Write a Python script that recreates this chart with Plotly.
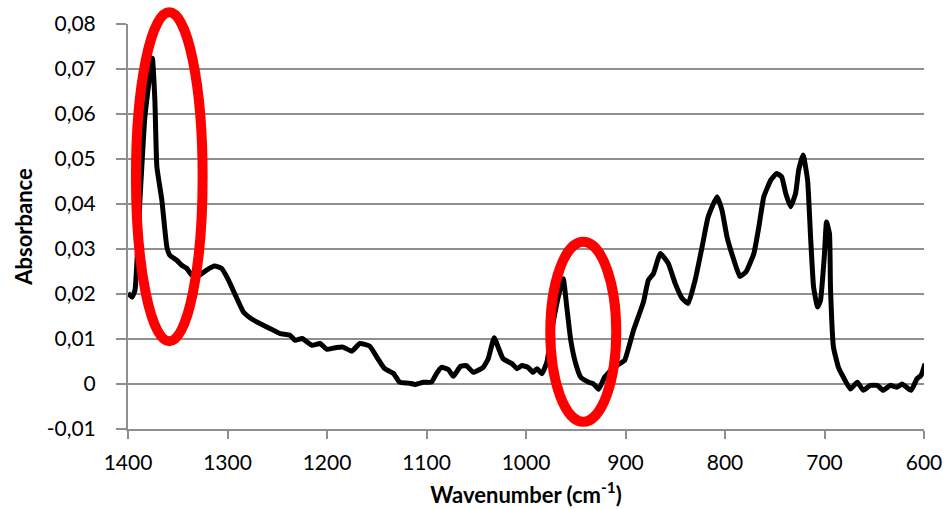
import plotly.graph_objects as go

# IR absorbance spectrum (wavenumber in cm-1, absorbance)
wavenumber = [
    1400, 1396, 1393, 1388, 1383, 1375.5, 1373, 1371, 1366, 1361, 1358, 1351, 1346, 1341,
    1336, 1328, 1321, 1313, 1306, 1299, 1292, 1284, 1276, 1267, 1257, 1247, 1237, 1232,
    1225, 1215, 1207, 1200, 1193, 1184, 1175, 1167, 1157, 1150, 1142, 1133, 1127, 1118,
    1111, 1103, 1095, 1090, 1085, 1078, 1073, 1066, 1060, 1053, 1043, 1038, 1032, 1028,
    1023, 1014, 1009, 1004, 998, 993, 989, 984, 979, 973, 966, 962.5, 959, 955, 950,
    945, 937, 932, 927, 921, 912, 906, 901, 892, 882, 877, 872, 865, 857, 850, 843, 837,
    830, 823, 817, 808, 803, 798, 791, 785, 779, 771, 766, 761, 754, 748, 743, 739, 734,
    729, 726, 721.5, 717, 714, 711, 707, 704, 700, 698, 695, 694, 691, 686, 681, 674,
    667, 661, 654, 647, 641, 634, 627, 622, 613, 607, 603, 599,
]
absorbance = [
    0.0202, 0.0193, 0.0208, 0.0409, 0.0594, 0.0724, 0.0631, 0.0483, 0.0409, 0.0305,
    0.0286, 0.0275, 0.0264, 0.0257, 0.0242, 0.0242, 0.0253, 0.0262, 0.0257, 0.0231,
    0.0197, 0.0160, 0.0145, 0.0134, 0.0123, 0.0112, 0.0108, 0.0097, 0.0101, 0.0086,
    0.0090, 0.0077, 0.0080, 0.0082, 0.0073, 0.0090, 0.0084, 0.0060, 0.0034, 0.0023,
    0.0004, 0.0002, -0.0001, 0.0004, 0.0004, 0.0023, 0.0037, 0.0032, 0.0017, 0.0039,
    0.0041, 0.0026, 0.0037, 0.0056, 0.0103, 0.0082, 0.0056, 0.0045, 0.0034, 0.0041,
    0.0037, 0.0026, 0.0034, 0.0023, 0.0049, 0.0134, 0.0208, 0.0234, 0.0171, 0.0097,
    0.0045, 0.0015, 0.0004, 0.0000, -0.0012, 0.0015, 0.0037, 0.0045, 0.0052, 0.0119,
    0.0182, 0.0231, 0.0245, 0.0290, 0.0268, 0.0223, 0.0190, 0.0179, 0.0231, 0.0305,
    0.0371, 0.0416, 0.0386, 0.0327, 0.0275, 0.0239, 0.0249, 0.0290, 0.0349, 0.0416,
    0.0453, 0.0468, 0.0460, 0.0424, 0.0394, 0.0424, 0.0475, 0.0509, 0.0453, 0.0327,
    0.0216, 0.0171, 0.0186, 0.0290, 0.0360, 0.0334, 0.0216, 0.0082, 0.0037, 0.0015,
    -0.0011, 0.0004, -0.0014, -0.0003, -0.0003, -0.0014, -0.0003, -0.0007, 0.0000,
    -0.0014, 0.0012, 0.0019, 0.0045,
]

y_range = [-0.01, 0.08]
y_tick_values = [-0.01, 0, 0.01, 0.02, 0.03, 0.04, 0.05, 0.06, 0.07, 0.08]
y_tick_labels = ["-0,01", "0", "0,01", "0,02", "0,03", "0,04", "0,05", "0,06", "0,07", "0,08"]
x_tick_values = [1400, 1300, 1200, 1100, 1000, 900, 800, 700, 600]

# Highlighted regions (wavenumber span, absorbance span)
highlights = [
    {"x": (1392, 1325), "y": (0.0095, 0.0826)},
    {"x": (975.6, 909.3), "y": (-0.0084, 0.0316)},
]

font_family = "Lato, 'Open Sans', sans-serif"
grid_color = "#8f8f8f"


def y_domain(v):
    """Absorbance value -> fraction of the y-axis domain (lets a shape run past the top)."""
    return (v - y_range[0]) / (y_range[1] - y_range[0])


fig = go.Figure()
fig.add_trace(go.Scatter(
    x=wavenumber, y=absorbance, mode="lines",
    line=dict(color="black", width=5, shape="spline", smoothing=0.4),
    hoverinfo="x+y", showlegend=False,
))

for h in highlights:
    fig.add_shape(
        type="circle", xref="x", yref="y domain",
        x0=h["x"][0], x1=h["x"][1], y0=y_domain(h["y"][0]), y1=y_domain(h["y"][1]),
        line=dict(color="#ff0000", width=10), fillcolor="rgba(0,0,0,0)",
        layer="above",
    )

fig.update_layout(
    width=951, height=509,
    margin=dict(l=128, r=27, t=24, b=80),
    paper_bgcolor="white", plot_bgcolor="white",
    font=dict(family=font_family, color="black", size=21),
    showlegend=False,
)
fig.update_xaxes(
    range=[1400, 600], tickvals=x_tick_values, automargin=False,
    showgrid=False, zeroline=False,
    showline=True, linecolor=grid_color, linewidth=2,
    ticks="outside", ticklen=8, tickcolor=grid_color, tickwidth=2,
    ticklabelstandoff=6,
    tickfont=dict(size=21, family=font_family),
    title=dict(text="<b>Wavenumber (cm<sup>-1</sup>)</b>", font=dict(size=22, family=font_family), standoff=14),
)
fig.update_yaxes(
    range=y_range, tickvals=y_tick_values, ticktext=y_tick_labels, automargin=False,
    showgrid=True, gridcolor=grid_color, gridwidth=2, zeroline=False,
    showline=True, linecolor=grid_color, linewidth=2,
    ticks="outside", ticklen=10, tickcolor=grid_color, tickwidth=2,
    ticklabelstandoff=16,
    tickfont=dict(size=21, family=font_family),
    title=dict(text="<b>Absorbance</b>", font=dict(size=22, family=font_family), standoff=8),
)

fig.write_html("out.html")
